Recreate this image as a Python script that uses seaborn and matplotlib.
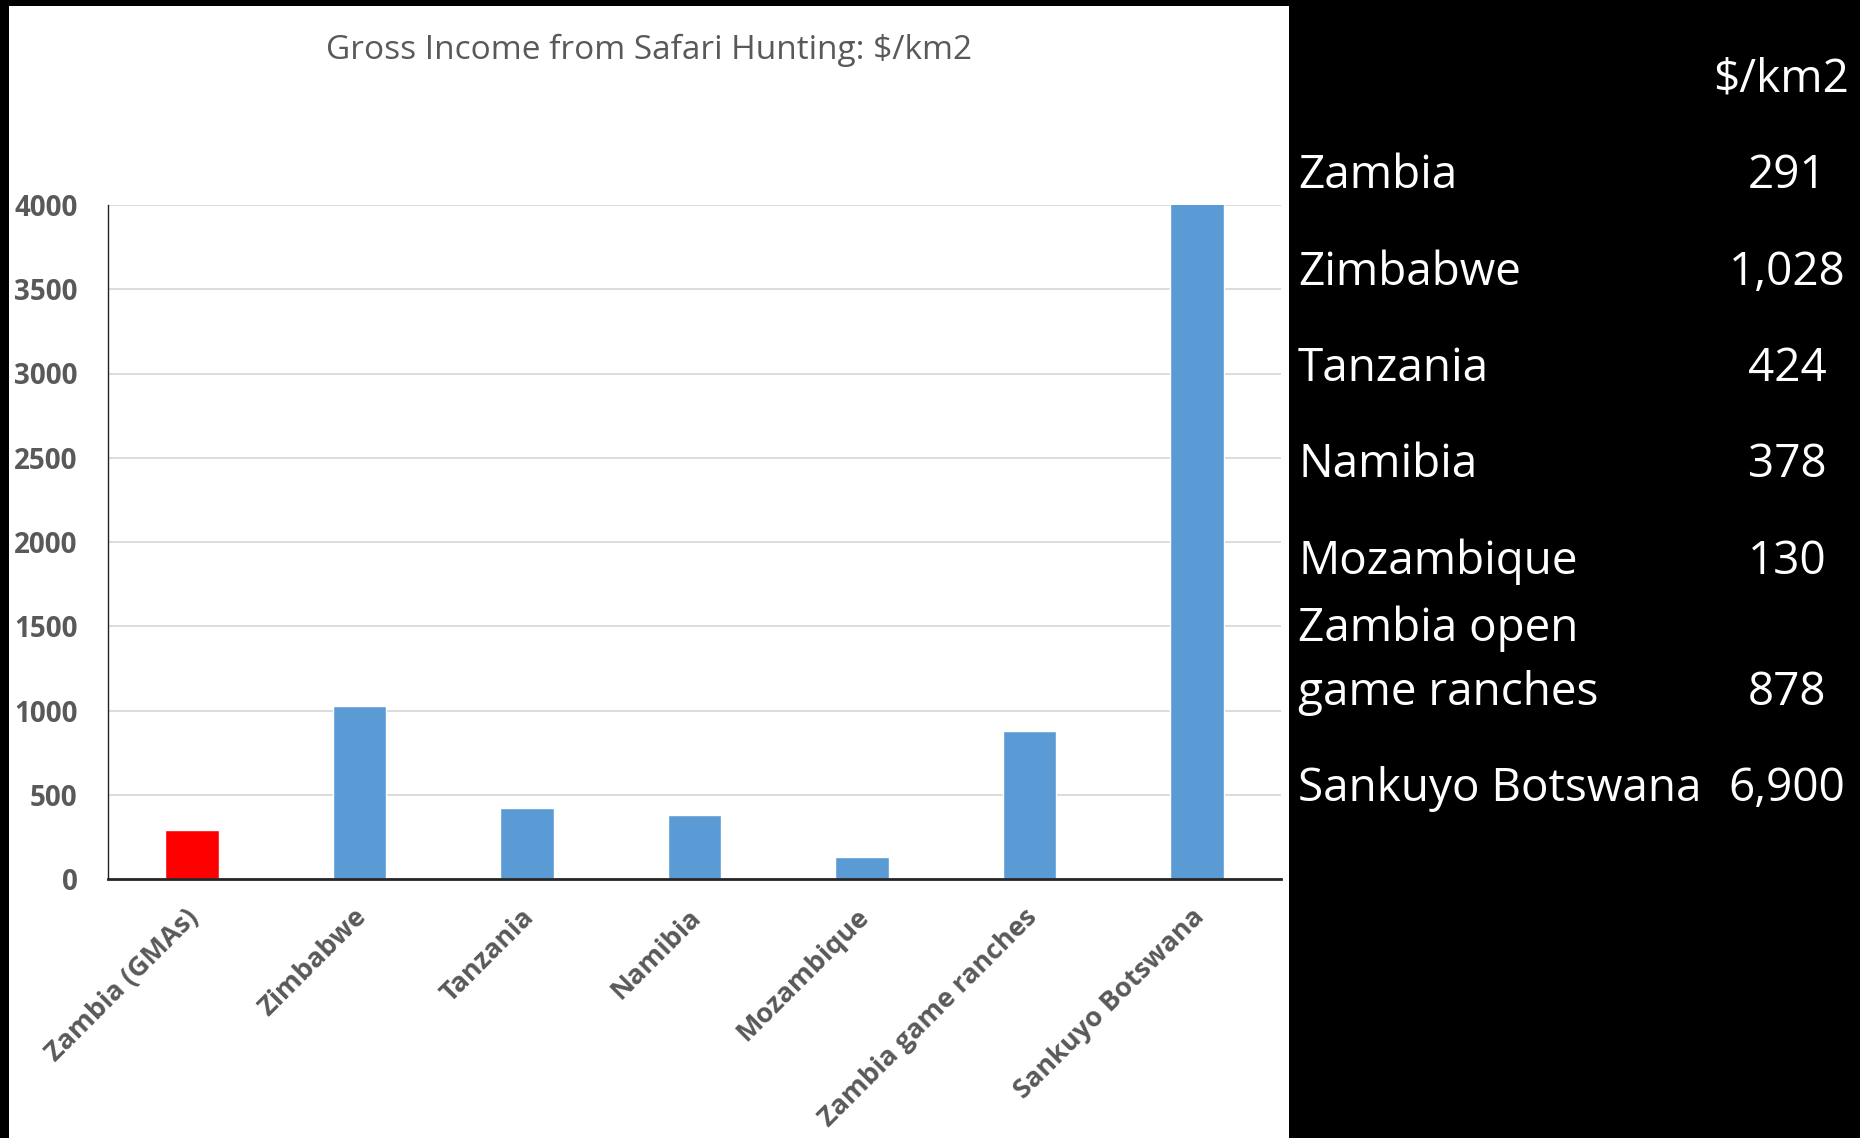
import numpy as np
import pandas as pd
import matplotlib
matplotlib.use("Agg")
import matplotlib.pyplot as plt
import matplotlib.transforms as mtransforms
from matplotlib.patches import Rectangle
import seaborn as sns

# chart data
categories = ["Zambia (GMAs)", "Zimbabwe", "Tanzania", "Namibia",
              "Mozambique", "Zambia game ranches", "Sankuyo Botswana"]
income = [291, 1028, 424, 378, 130, 878, 6900]
bar_colors = ["#FF0000", "#5B9BD5", "#5B9BD5", "#5B9BD5",
              "#5B9BD5", "#5B9BD5", "#5B9BD5"]
y_ticks = [0, 500, 1000, 1500, 2000, 2500, 3000, 3500, 4000]

# side table data
table_labels = ["Zambia", "Zimbabwe", "Tanzania", "Namibia", "Mozambique",
                "Zambia open\ngame ranches", "Sankuyo Botswana"]
table_values = [291, 1028, 424, 378, 130, 878, 6900]

df = pd.DataFrame({"country": categories, "income": income})

sns.set_style("white")
plt.rcParams["font.family"] = ["Open Sans", "DejaVu Sans"]

W, H = 1860, 1138
fig = plt.figure(figsize=(W / 100, H / 100), dpi=100, facecolor="black")
# white slide area behind the chart
fig.patches.append(Rectangle((9 / W, 0), (1289 - 9) / W, (H - 6) / H,
                             transform=fig.transFigure, facecolor="white",
                             edgecolor="none", zorder=-5))

ax = fig.add_axes([108 / W, 259 / H, (1281 - 108) / W, (879 - 205) / H])
ax.set_facecolor("none")
sns.barplot(data=df, x="country", y="income", hue="country",
            palette=bar_colors, legend=False, width=0.32, saturation=1, ax=ax)

ax.set_ylim(0, 4000)
ax.set_yticks(y_ticks)
ax.yaxis.grid(True, color="#D9D9D9", linewidth=1.3)
ax.set_axisbelow(True)
ax.set_xlabel("")
ax.set_ylabel("")
for s in ["top", "right"]:
    ax.spines[s].set_visible(False)
ax.spines["left"].set_color("#222222")
ax.spines["left"].set_linewidth(1.0)
ax.spines["bottom"].set_color("#262626")
ax.spines["bottom"].set_linewidth(2.0)
ax.tick_params(axis="both", length=0)
ax.tick_params(axis="y", pad=22, labelsize=20, labelcolor="#595959")
ax.tick_params(axis="x", pad=18, labelsize=19.5, labelcolor="#595959")
for lbl in ax.get_yticklabels():
    lbl.set_fontweight("bold")
shift = mtransforms.ScaledTranslation(-6 / 100, 0, fig.dpi_scale_trans)
for lbl in ax.get_xticklabels():
    lbl.set_fontweight("bold")
    lbl.set_rotation(45)
    lbl.set_ha("right")
    lbl.set_va("top")
    lbl.set_rotation_mode("anchor")
    lbl.set_transform(lbl.get_transform() + shift)

fig.text(649 / W, 1 - 50 / H, "Gross Income from Safari Hunting: $/km2",
         ha="center", va="center", fontsize=24, color="#595959")

# right hand table
tfont = dict(color="white", fontsize=33)
fig.text(1849 / W, 1 - 79 / H, "$/km2", ha="right", va="center", **tfont)
row_y = [176, 273, 369, 465, 562, 693, 789]
for lab, val, yy in zip(table_labels, table_values, row_y):
    if "\n" in lab:
        first, second = lab.split("\n")
        fig.text(1298 / W, 1 - 629 / H, first, ha="left", va="center", **tfont)
        fig.text(1298 / W, 1 - yy / H, second, ha="left", va="center", **tfont)
    else:
        fig.text(1298 / W, 1 - yy / H, lab, ha="left", va="center", **tfont)
    fig.text(1787 / W, 1 - yy / H, f"{val:,}", ha="center", va="center", **tfont)

fig.savefig("out.png", dpi=100, facecolor=fig.get_facecolor())
